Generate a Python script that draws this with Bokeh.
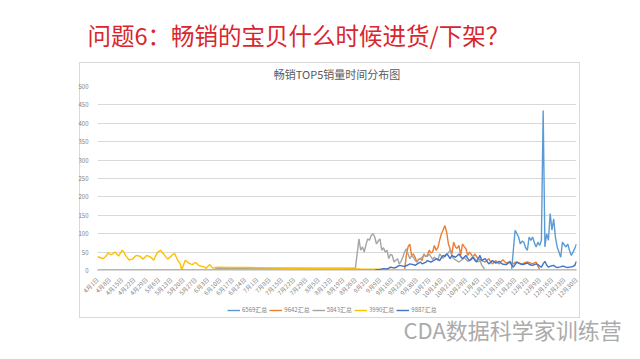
import math
from bokeh.plotting import figure
from bokeh.layouts import column, row
from bokeh.models import Range1d, FixedTicker, Legend, LegendItem, Title, Label
from bokeh.embed import file_html
from bokeh.resources import INLINE

SLIDE_TITLE = "问题6：畅销的宝贝什么时候进货/下架？"
CHART_TITLE = "畅销TOP5销量时间分布图"
WATERMARK = "CDA数据科学家训练营"

TICK_LABELS = ["4月1日", "4月8日", "4月15日", "4月22日", "4月29日", "5月6日", "5月13日",
               "5月20日", "5月27日", "6月3日", "6月10日", "6月17日", "6月24日", "7月1日",
               "7月8日", "7月15日", "7月22日", "7月29日", "8月5日", "8月12日", "8月19日",
               "8月26日", "9月2日", "9月9日", "9月16日", "9月23日", "9月30日", "10月7日",
               "10月14日", "10月21日", "10月28日", "11月4日", "11月11日", "11月18日",
               "11月25日", "12月2日", "12月9日", "12月16日", "12月23日", "12月30日"]
TICK_DAYS = [7 * i for i in range(len(TICK_LABELS))]   # day offsets from 4月1日
Y_TICKS = [0, 50, 100, 150, 200, 250, 300, 350, 400, 450, 500]

SERIES_NAMES = ["6569汇总", "9642汇总", "5843汇总", "3990汇总", "9887汇总"]
COLORS = ["#5B9BD5", "#ED7D31", "#A5A5A5", "#FFC000", "#4472C4"]

# 6569汇总  (day offsets from 4月1日)
X_6569 = [0] + list(range(236, 274))
Y_6569 = [0, 0, 55, 109, 100, 91, 72, 80, 77, 62, 55, 91, 82, 91, 75, 64, 77,
          68, 82, 435, 64, 100, 82, 155, 110, 140, 90, 64, 50, 36, 77, 70, 64, 72,
          55, 41, 50, 60, 72]

# 9642汇总
X_9642 = [0] + list(range(175, 232)) + [233, 234, 235, 236, 237, 238, 239, 241, 242, 244,
                                        245, 247, 248, 249, 250, 251, 252, 253, 273]
Y_9642 = [0, 0, 41, 64, 72, 41, 45, 36, 23, 30, 32, 27, 45, 38, 41, 55, 48,
          50, 68, 55, 62, 82, 100, 110, 122, 104, 72, 58, 45, 77, 64, 60, 68, 41,
          72, 65, 59, 41, 50, 44, 36, 45, 38, 32, 30, 27, 25, 23, 28, 32, 24,
          18, 22, 27, 21, 18, 24, 29, 20, 22, 25, 20, 18, 22, 23, 19, 18, 22,
          23, 20, 18, 21, 23, 12, 3, 0, 0]

# 5843汇总
X_5843 = [67, 91, 121, 147] + list(range(149, 185)) + [186, 188, 189, 191, 192, 194, 195, 197,
                                                       198, 200, 201, 202, 203, 205, 206, 208,
                                                       209, 211, 212, 214, 215, 217, 218, 219,
                                                       220, 221, 273]
Y_5843 = [6, 6, 6, 6, 86, 55, 64, 50, 70, 86, 82, 95, 100, 91, 72, 80, 86,
          55, 62, 50, 55, 32, 44, 41, 23, 28, 32, 18, 25, 36, 50, 59, 45, 32,
          40, 36, 28, 23, 30, 32, 41, 38, 45, 30, 36, 28, 45, 33, 41, 48, 55,
          40, 32, 26, 23, 30, 36, 25, 27, 38, 32, 23, 28, 14, 8, 0, 0]

# 3990汇总
X_3990 = list(range(70)) + [75, 85, 95, 110, 125, 140, 150, 170, 200, 230, 273]
Y_3990 = [38, 36, 34, 33, 35, 40, 48, 44, 43, 47, 50, 45, 39, 47, 55, 50, 41, 35, 28, 30,
          31, 36, 41, 40, 39, 35, 31, 36, 41, 39, 37, 33, 28, 38, 48, 52, 55, 48, 43, 37,
          31, 35, 39, 44, 46, 35, 25, 20, 2, 15, 28, 24, 20, 18, 16, 19, 22, 17, 13, 12,
          11, 9, 6, 12, 16, 10, 6, 8, 8, 9,
          8, 8, 7, 6, 5, 5, 4, 3, 2, 2, 2]

# 9887汇总
X_9887 = ([0, 158, 159, 161, 163, 165, 167, 169, 170, 172, 174, 175, 177, 178, 180, 181, 183,
           184, 185, 187, 188, 189, 190] + list(range(192, 232)) + list(range(233, 274)))
Y_9887 = [0, 0, 2, 3, 5, 4, 9, 7, 8, 14, 12, 11, 15, 18, 16, 14, 20,
          23, 18, 22, 27, 25, 23, 28, 32, 30, 27, 35, 41, 38, 45, 40, 32, 41,
          38, 36, 40, 45, 38, 32, 36, 41, 33, 27, 30, 36, 28, 23, 32, 41, 27,
          30, 32, 25, 18, 22, 27, 24, 20, 22, 25, 20, 17, 16, 20, 23, 15, 9,
          16, 23, 20, 18, 16, 17, 19, 20, 17, 15, 14, 16, 18, 16, 12, 9, 18,
          25, 15, 9, 11, 13, 14, 10, 8, 9, 10, 12, 11, 9, 8, 9, 10, 11,
          14, 25]

SERIES_X = [X_6569, X_9642, X_5843, X_3990, X_9887]
SERIES_Y = [Y_6569, Y_9642, Y_5843, Y_3990, Y_9887]

FONT = "Noto Sans CJK SC"
BOX = "#d9d9d9"
GRAD = ", ".join([f"linear-gradient({BOX}, {BOX})"] * 3)

# ---------------- main chart ----------------
p = figure(width=632, height=306, output_backend="svg", toolbar_location=None,
           x_range=Range1d(0, 273), y_range=Range1d(0, 500),
           min_border_left=97, min_border_right=56, min_border_top=86, min_border_bottom=36,
           outline_line_color=None, background_fill_color="white",
           border_fill_color="white", border_fill_alpha=0)
p.styles = {
    "background-color": "white",
    "background-image": GRAD,
    "background-size": "501px 1px, 1px 244px, 1px 244px",
    "background-position": "79px 62px, 79px 62px, 579px 62px",
    "background-repeat": "no-repeat",
}

p.title = Title(text=SLIDE_TITLE, align="left", offset=-10, text_font=FONT,
                text_font_size="23.5px", text_color="#d9262e", text_font_style="normal",
                standoff=16)
p.add_layout(Title(text=CHART_TITLE, align="center", offset=-8, text_font=FONT,
                   text_font_size="11px", text_color="#595959", text_font_style="normal",
                   standoff=9), "above")

for xs, ys, c in zip(SERIES_X, SERIES_Y, COLORS):
    p.line(xs, ys, line_color=c, line_width=1.4)

p.xaxis.ticker = FixedTicker(ticks=TICK_DAYS)
p.xaxis.major_label_overrides = {d: l for d, l in zip(TICK_DAYS, TICK_LABELS)}
p.xaxis.major_label_orientation = math.pi / 4
p.xaxis.major_label_text_font_size = "6px"
p.xaxis.major_label_text_color = "#7f7f7f"
p.xaxis.major_label_text_font = FONT
p.xaxis.major_label_standoff = 2
p.xaxis.axis_line_color = "#d9d9d9"
p.xaxis.major_tick_line_color = None
p.xaxis.minor_tick_line_color = None
p.xgrid.visible = False

p.yaxis.ticker = FixedTicker(ticks=Y_TICKS)
p.yaxis.major_label_text_font_size = "6px"
p.yaxis.major_label_text_color = "#7f7f7f"
p.yaxis.major_label_text_font = FONT
p.yaxis.major_label_standoff = 3
p.yaxis.axis_line_color = None
p.yaxis.major_tick_line_color = None
p.yaxis.minor_tick_line_color = None
p.ygrid.grid_line_color = "#d9d9d9"

# ---------------- legend + watermark strip ----------------
# its ranges lie outside the data, so the series lines only serve as legend keys
q = figure(width=632, height=49, output_backend="svg", toolbar_location=None,
           x_range=Range1d(-20, -10), y_range=Range1d(0, 1), min_border=0,
           x_axis_type=None, y_axis_type=None, outline_line_color=None,
           background_fill_alpha=0, border_fill_alpha=0)
q.styles = {
    "background-color": "white",
    "background-image": GRAD,
    "background-size": "501px 1px, 1px 12px, 1px 12px",
    "background-position": "79px 11px, 79px 0px, 579px 0px",
    "background-repeat": "no-repeat",
}

keys = [q.line(xs, ys, line_color=c, line_width=1.4) for xs, ys, c in zip(SERIES_X, SERIES_Y, COLORS)]
legend = Legend(items=[LegendItem(label=n, renderers=[r]) for n, r in zip(SERIES_NAMES, keys)],
                orientation="horizontal", location=(227, 41),
                background_fill_alpha=0, border_line_color=None,
                label_text_font=FONT, label_text_font_size="6px", label_text_color="#7f7f7f",
                glyph_width=13, glyph_height=6, label_standoff=2, spacing=2,
                padding=0, margin=0, label_height=6, label_width=10)
q.add_layout(legend, "center")

q.add_layout(Label(x=403, y=27, x_units="screen", y_units="screen", text=WATERMARK,
                   text_font=FONT, text_font_size="22px", text_color="#ababab",
                   text_baseline="middle", text_align="left"))

layout = column(p, row(q))
open("out.html", "w").write(file_html(layout, INLINE))
